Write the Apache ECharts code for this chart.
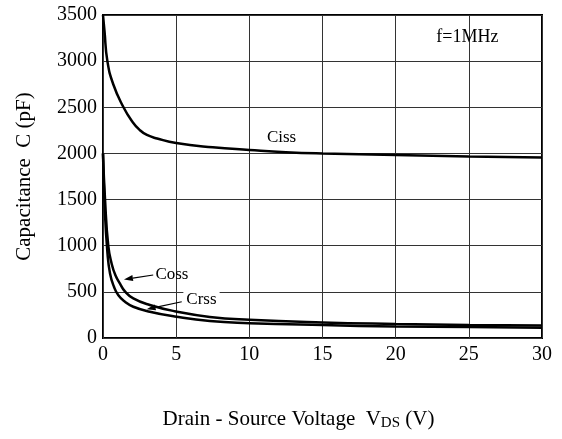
<!DOCTYPE html>
<html>
<head>
<meta charset="utf-8">
<script src="https://cdn.jsdelivr.net/npm/echarts@6/dist/echarts.min.js"></script>
<style>
  html, body { margin: 0; padding: 0; background: #fff; }
  #chart { width: 562px; height: 439px; }
</style>
</head>
<body>
<div id="chart"></div>
<script>
  const cissV = [0, 0.1, 0.3, 0.7, 1.4, 2.0, 2.5, 3.0, 3.7, 5, 7.5, 10, 12.5, 15, 20, 25, 30];
  const cissC = [3500, 3330, 3000, 2750, 2500, 2345, 2255, 2200, 2162, 2112, 2066, 2038, 2014, 2000, 1983, 1968, 1955];

  const cossV = [0, 0.14, 0.36, 0.6, 0.85, 1.16, 1.5, 2.07, 3.2, 4.9, 7.3, 10, 15, 20, 25, 30];
  const cossC = [2000, 1500, 1000, 800, 680, 590, 505, 430, 358, 290, 228, 197, 168, 152, 141, 135];

  const crssV = [0, 0.12, 0.3, 0.48, 0.75, 1.05, 1.5, 2.07, 3.2, 4.9, 7.3, 10, 15, 20, 25, 30];
  const crssC = [2000, 1400, 930, 700, 555, 462, 393, 339, 285, 233, 183, 161, 140, 125, 118, 112];

  const xTicks = [0, 5, 10, 15, 20, 25, 30];
  const yTicks = [0, 500, 1000, 1500, 2000, 2500, 3000, 3500];

  // annotations, in data units
  const noteText = ['Ciss', 'Coss', 'Crss', 'f=1MHz'];
  const noteAt = [[12.2, 2167], [4.71, 693], [6.73, 417], [24.9, 3262]];
  const arrowFrom = [[3.43, 683], [5.38, 393]];
  const arrowTo = [[1.43, 635], [2.98, 311]];

  const font = 'Liberation Serif, Times New Roman, serif';
  const pairs = (xs, ys) => xs.map((x, i) => [x, ys[i]]);

  const chart = echarts.init(document.getElementById('chart'));

  const curve = (name, data) => ({
    name: name,
    type: 'line',
    data: data,
    smooth: 0.5,
    showSymbol: false,
    lineStyle: { color: '#000', width: 2.5 },
    z: 3
  });

  chart.setOption({
    animation: false,
    grid: {
      left: 103, right: 20, top: 15, bottom: 101,
      show: true, borderColor: '#000', borderWidth: 2
    },
    xAxis: {
      type: 'value',
      min: xTicks[0], max: xTicks[xTicks.length - 1], interval: 5,
      name: 'Drain - Source Voltage  V{sub|DS} (V)',
      nameLocation: 'middle',
      nameGap: 69,
      nameTextStyle: {
        fontFamily: font, fontSize: 21, color: '#000', padding: [0, 48, 0, 0],
        rich: { sub: { fontFamily: font, fontSize: 15, color: '#000', padding: [9, 0, 0, 0] } }
      },
      axisLine: { show: false },
      axisTick: { show: false },
      axisLabel: { fontFamily: font, fontSize: 20, color: '#000', margin: 7 },
      splitLine: { lineStyle: { color: '#333', width: 1 } }
    },
    yAxis: {
      type: 'value',
      min: yTicks[0], max: yTicks[yTicks.length - 1], interval: 500,
      name: 'Capacitance  C (pF)',
      nameLocation: 'middle',
      nameGap: 68,
      nameTextStyle: { fontFamily: font, fontSize: 21, color: '#000' },
      axisLine: { show: false },
      axisTick: { show: false },
      axisLabel: { fontFamily: font, fontSize: 20, color: '#000', margin: 6, formatter: v => String(v) },
      splitLine: { lineStyle: { color: '#333', width: 1 } }
    },
    series: [
      curve('Ciss', pairs(cissV, cissC)),
      curve('Coss', pairs(cossV, cossC)),
      curve('Crss', pairs(crssV, crssC))
    ]
  });

  // labels and arrows placed from data coords
  const px = p => chart.convertToPixel({ gridIndex: 0 }, p);
  const graphics = [];
  noteText.forEach((t, i) => {
    const p = px(noteAt[i]);
    graphics.push({
      type: 'text', x: p[0], y: p[1], z: 10,
      style: {
        text: t, font: (i === 3 ? '18px ' : '17px ') + font, fill: '#000',
        align: 'center', verticalAlign: 'middle',
        backgroundColor: i === 2 ? '#fff' : null, padding: i === 2 ? [0, 3] : 0
      }
    });
  });
  arrowFrom.forEach((f, i) => {
    const a = px(f), b = px(arrowTo[i]);
    const ang = Math.atan2(b[1] - a[1], b[0] - a[0]);
    const len = 9, w = 3;
    const bx = b[0] - len * Math.cos(ang), by = b[1] - len * Math.sin(ang);
    graphics.push({
      type: 'line', z: 10,
      shape: { x1: a[0], y1: a[1], x2: bx, y2: by },
      style: { stroke: '#000', lineWidth: 1.2 }
    });
    graphics.push({
      type: 'polygon', z: 10,
      shape: { points: [
        [b[0], b[1]],
        [bx + w * Math.sin(ang), by - w * Math.cos(ang)],
        [bx - w * Math.sin(ang), by + w * Math.cos(ang)]
      ] },
      style: { fill: '#000' }
    });
  });
  chart.setOption({ graphic: graphics });
</script>
</body>
</html>
